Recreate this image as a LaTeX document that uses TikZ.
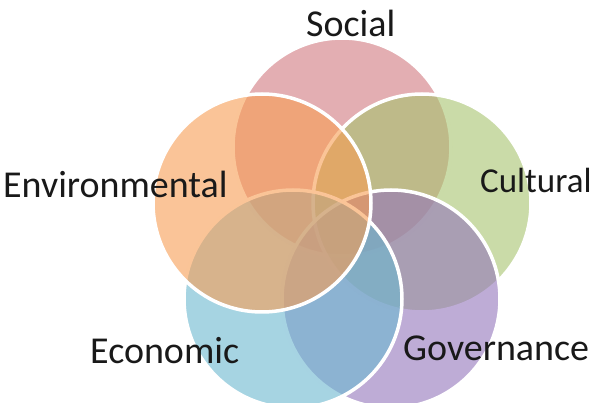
\documentclass[tikz,border=0pt]{standalone}
\usepackage{fontspec}
\setmainfont{Carlito}
\definecolor{socialc}{RGB}{209,120,126}
\definecolor{culturalc}{RGB}{167,195,110}
\definecolor{govc}{RGB}{147,117,187}
\definecolor{econc}{RGB}{107,183,207}
\definecolor{envc}{RGB}{247,157,83}
\begin{document}
\begin{tikzpicture}[x=1pt,y=-1pt,
  venn/.style={circle, minimum size=218pt, inner sep=0pt, draw=white, line width=3.5pt, fill opacity=0.6},
  lbl/.style={anchor=base west, inner sep=0pt, font=\fontsize{38}{44}\selectfont, text=black!90}]
\useasboundingbox (0,0) rectangle (600,403);
\node[venn, fill=socialc]   (social) at (342,147) {};
\node[venn, fill=culturalc] (cultural) at (422,203) {};
\node[venn, fill=govc]      (governance) at (391,299) {};
\node[venn, fill=econc]     (economic) at (293,299) {};
\node[venn, fill=envc]      (environmental) at (262,203) {};
\node[lbl] (tsocial) at (306,37) {Social};
\node[lbl, font=\fontsize{35}{42}\selectfont] (tcultural) at (480,193) {Cultural};
\node[lbl] (tenv) at (3,198) {Environmental};
\node[lbl] (tecon) at (90,363) {Economic};
\node[lbl] (tgov) at (403,361) {Governance};
\end{tikzpicture}
\end{document}
